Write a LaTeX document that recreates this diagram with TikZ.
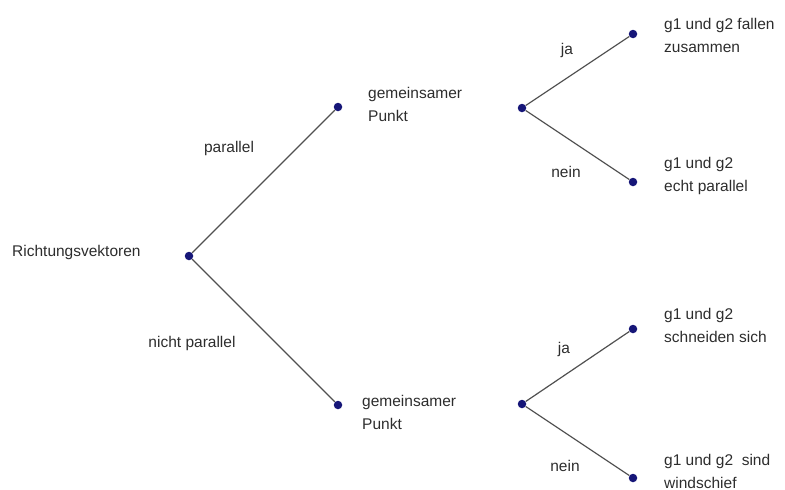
\documentclass[tikz,border=0pt]{standalone}
\usepackage{fontspec}
\setmainfont{Liberation Sans}
\definecolor{dotblue}{RGB}{22,22,120}
\definecolor{linegray}{RGB}{80,80,80}
\definecolor{txtgray}{RGB}{45,45,45}
\begin{document}
\begin{tikzpicture}[x=1pt,y=-1pt,
  dot/.style={circle,fill=dotblue,inner sep=0pt,minimum size=8.5pt},
  branch/.style={draw=linegray,line width=1.2pt},
  lbl/.style={text=txtgray,font=\fontsize{15.5}{23}\selectfont,inner sep=0pt},
  leaf/.style={lbl,anchor=west,align=left}]
\useasboundingbox (0,0) rectangle (785,490);

% decision points
\node[dot] (root) at (189,256) {};
\node[dot] (par)  at (338,107) {};
\node[dot] (npar) at (338,405) {};
\node[dot] (parq) at (522,108) {};
\node[dot] (nparq) at (522,404) {};
\node[dot] (pja)  at (633,34) {};
\node[dot] (pnein) at (633,182) {};
\node[dot] (nja)  at (633,329) {};
\node[dot] (nnein) at (633,478) {};

% tree edges
\draw[branch] (root) -- (par);
\draw[branch] (root) -- (npar);
\draw[branch] (parq) -- (pja);
\draw[branch] (parq) -- (pnein);
\draw[branch] (nparq) -- (nja);
\draw[branch] (nparq) -- (nnein);

% node texts
\node[leaf] (troot) at (12,252) {Richtungsvektoren};
\node[leaf] (tpar) at (368,104) {gemeinsamer\\Punkt};
\node[leaf] (tnpar) at (362,412) {gemeinsamer\\Punkt};
\node[leaf] (tpja) at (664,35) {g1 und g2 fallen\\zusammen};
\node[leaf] (tpnein) at (664,176) {g1 und g2\\echt parallel};
\node[leaf] (tnja) at (664,325) {g1 und g2\\schneiden sich};
\node[leaf] (tnnein) at (664,471) {g1 und g2~ sind\\windschief};

% edge labels
\node[lbl] (lpar) at (229,148) {parallel};
\node[lbl] (lnpar) at (192,343) {nicht parallel};
\node[lbl] (lpja) at (567,50) {ja};
\node[lbl] (lpnein) at (566,172) {nein};
\node[lbl] (lnja) at (564,349) {ja};
\node[lbl] (lnnein) at (565,466) {nein};
\end{tikzpicture}
\end{document}
